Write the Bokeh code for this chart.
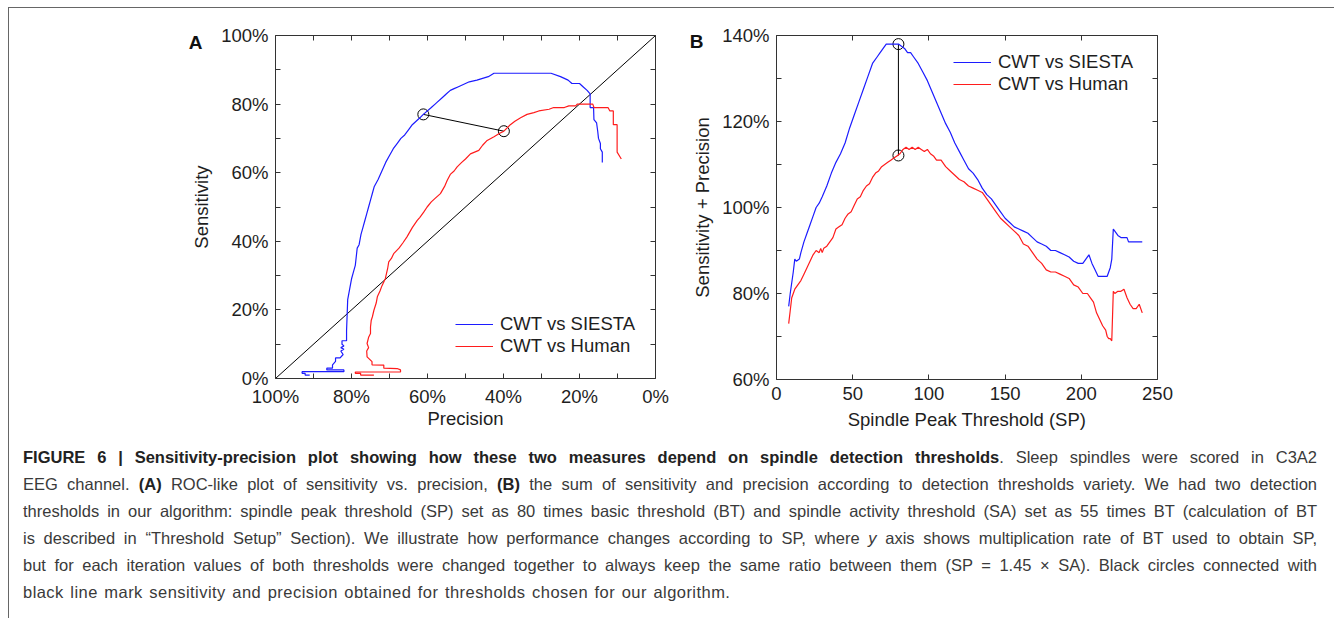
from bokeh.plotting import figure
from bokeh.models import (Range1d, LinearAxis, FixedTicker, Div, PrintfTickFormatter,
                          CustomJSTickFormatter, Legend, LegendItem)
from bokeh.layouts import row, column
from bokeh.embed import file_html
from bokeh.resources import INLINE

# ---------------- data ----------------
# Panel A: precision (%) vs sensitivity (%)
prec_siesta = [14, 14, 14.5, 14.5, 15, 15.2, 15.5, 16.2, 16.3, 17.2, 17.2, 18, 19, 20, 22, 23, 25, 27.5,
               42.5, 44, 47, 49, 50, 52, 53, 54, 55, 56, 57.5, 58, 59, 61.1, 62, 63, 64, 65, 66, 67, 68,
               69, 70, 71, 72, 73, 74, 74.5, 75, 75.5, 76, 76.5, 77, 77.5, 78, 78.5, 79, 79.5, 80, 80.5,
               81, 81.3, 81.3, 82.5, 82.5, 82, 82.8, 82, 82.8, 82.2, 83, 84.2, 84.2, 85, 85, 86.5, 86.5,
               82, 82, 93, 93, 92.2, 92.2, 91]
sens_siesta = [63, 66, 67, 68.5, 70, 72, 74.5, 75.5, 79, 79, 83, 84, 85, 86, 86, 87, 88, 89,
               89, 88, 87, 86.5, 86, 85, 84.5, 84, 83, 82, 80.5, 80, 79, 77, 76, 75, 74, 72.5, 71, 70, 68.5,
               67, 65, 63, 60.5, 58, 56, 54, 52, 50, 48, 46, 44, 42, 39, 38, 33, 31, 29, 26,
               23, 14, 11, 11, 10, 9.5, 9, 8.5, 8, 7, 6, 6, 5, 4, 3, 3, 2.5,
               2.5, 2, 2, 1.5, 1.5, 1, 1]

prec_human = [9, 10.1, 10.1, 11.1, 11.1, 12, 12.5, 13.6, 16.2, 16.5, 18.4, 20.6, 21, 22.8, 24, 26.8, 28,
              30.7, 32, 33.8, 35.5, 37, 38.2, 39.9, 41, 42.5, 44.3, 45.5, 46.5, 48.7, 50, 51, 52.2, 53,
              54, 54.8, 55.5, 56.6, 58, 59, 60.1, 61, 62, 62.7, 64, 65.4, 66.5, 67.5, 68.9, 69.5, 70.2,
              70.5, 71.1, 72, 72.5, 73.2, 73.5, 74.1, 74.5, 74.8, 75, 75, 75.5, 75.9, 75.5, 76, 75.9,
              74.6, 74.6, 71.5, 71.5, 68, 67.1, 67.1, 79, 79, 77.6, 77.6, 74.1]
sens_human = [64, 66, 74, 74, 78, 78, 79, 79, 79, 80, 80, 80, 79.5, 79.5, 79, 79, 78.5,
              78, 77.5, 77, 76, 75, 74, 72.1, 71.5, 70.5, 69.4, 68, 66.5, 65.5, 64, 63, 61.7, 60.5,
              59.5, 57.8, 56, 53.9, 52.5, 51.5, 50, 48.5, 47, 46.1, 44, 41.3, 39.5, 38, 36.4, 35, 34,
              32, 29.1, 27, 25.5, 23.8, 22, 19.9, 18, 17, 15, 13.1, 12, 10.2, 9, 8, 6.3,
              4.9, 4, 3.9, 3, 2.9, 2.5, 1.9, 1.9, 1.5, 1.5, 1, 1]

diag_prec = [100, 0]
diag_sens = [0, 100]
chosen_prec = [61.1, 39.9]
chosen_sens = [77.0, 72.1]

# Panel B: spindle peak threshold vs sensitivity + precision (%)
sp_siesta = [8, 9, 11, 12, 13, 15, 16, 18, 20, 22, 24, 26, 28, 30, 33, 36, 39, 42, 45, 48,
             51, 54, 57, 60, 63, 66, 68, 70, 72, 75, 78, 80, 82, 84, 86, 88, 90, 93, 96, 99,
             102, 105, 108, 111, 114, 117, 120, 123, 126, 129, 132, 135, 138, 141, 144, 147, 150, 153, 156, 159,
             162, 165, 168, 171, 174, 177, 180, 183, 186, 189, 192, 195, 198, 201, 203, 205, 207, 209, 211, 214,
             217, 219, 220, 221, 222, 224, 226, 228, 230, 231, 235, 240]
sum_siesta = [77, 80, 85, 88, 87.5, 88, 89.5, 92, 94, 96, 98, 100, 101, 102.5, 105, 108, 110.5, 112.5, 115, 118.5,
              121.5, 124.5, 127.5, 130.5, 133.5, 135, 136, 137, 138, 138, 138, 138, 137.5, 137, 136, 136, 135, 133.5, 131.5, 129.5,
              127, 124.5, 122, 119.5, 117.5, 115, 113, 111, 109, 108, 106.5, 104.5, 103, 102, 100.5, 99, 97.5, 96.5, 95.5, 95,
              94.5, 94, 93, 92, 91.5, 91, 90, 90, 89.5, 89, 88.5, 87.5, 87, 87, 88, 89, 87, 85.5, 84, 84,
              84, 86, 88, 95, 94.5, 93.5, 93, 93, 93, 92, 92, 92]

sp_human = [8, 9, 10, 12, 14, 16, 18, 20, 22, 24, 26, 28, 29, 30, 31, 33, 35, 37, 39, 41,
            43, 45, 47, 49, 51, 53, 55, 57, 59, 61, 63, 65, 67, 69, 71, 73, 75, 77, 79, 81,
            83, 85, 87, 89, 91, 93, 95, 97, 99, 101, 103, 105, 108, 111, 114, 117, 120, 123, 126, 129,
            132, 135, 138, 141, 144, 147, 150, 153, 156, 159, 162, 165, 168, 171, 174, 177, 180, 183, 186, 189,
            192, 195, 198, 201, 204, 206, 208, 210, 212, 214,
            216, 217, 218, 219, 220, 221, 222, 224, 226, 228, 230, 232, 234, 236, 238, 240]
sum_human = [73, 76, 79, 81, 82, 83, 84.5, 86, 87.5, 89, 90, 89.5, 90.5, 89.5, 90.5, 91, 92, 93, 95, 95.5,
             96, 97.5, 98.5, 99, 100.5, 102, 102.5, 104, 105, 105.5, 107, 108, 108.5, 109.5, 110, 110.5, 111, 111.5, 112, 112.5,
             113.5, 114, 113.5, 114, 113.5, 114, 113.5, 113, 113.5, 112.5, 112, 111, 111, 109.5, 108.5, 107.5, 106.5, 106, 105, 104.5,
             104, 103.5, 102, 100.5, 99, 97.5, 96.5, 95.5, 94.5, 93.5, 91.5, 91, 89.5, 88, 87, 85.5, 85, 85, 84.5, 84,
             83.5, 82, 81.5, 80, 80, 79, 78, 75.5, 74, 72.5,
             71.5, 70, 69.5, 69.5, 69, 80.5, 80, 80.5, 80.5, 81, 79, 77.5, 76.5, 76.5, 77.5, 75.5]

chosen_sp = [80, 80]
chosen_sum = [138, 112.1]

pct_ticks_a = [0, 20, 40, 60, 80, 100]
pct_minor_a = [10, 30, 50, 70, 90]
sum_ticks_b = [60, 80, 100, 120, 140]
sum_minor_b = [70, 90, 110, 130]
sp_ticks_b = [0, 50, 100, 150, 200, 250]

legend_labels = ["CWT vs SIESTA", "CWT vs Human"]
panel_letters = ["A", "B"]

caption_lines = [
    '<b style="color:#222">FIGURE 6 | Sensitivity-precision plot showing how these two measures depend on spindle detection thresholds</b>. Sleep spindles were scored in C3A2',
    'EEG channel. <b style="color:#222">(A)</b> ROC-like plot of sensitivity vs. precision, <b style="color:#222">(B)</b> the sum of sensitivity and precision according to detection thresholds variety. We had two detection',
    'thresholds in our algorithm: spindle peak threshold (SP) set as 80 times basic threshold (BT) and spindle activity threshold (SA) set as 55 times BT (calculation of BT',
    'is described in \u201cThreshold Setup\u201d Section). We illustrate how performance changes according to SP, where <i>y</i> axis shows multiplication rate of BT used to obtain SP,',
    'but for each iteration values of both thresholds were changed together to always keep the same ratio between them (SP = 1.45 \u00d7 SA). Black circles connected with',
    'black line mark sensitivity and precision obtained for thresholds chosen for our algorithm.',
]

# ---------------- style ----------------
FONT = "Liberation Sans"
AXC = "#333333"
TXT = "#1e1e1e"
BLUE = "#1c1cff"
RED = "#ff1c1c"
FS = "18.5px"


def setup_axis(ax, ticks, minor, fmt, show_labels=True):
    ax.ticker = FixedTicker(ticks=ticks, minor_ticks=minor)
    ax.formatter = PrintfTickFormatter(format=fmt)
    ax.axis_line_color = AXC
    ax.axis_line_width = 1
    ax.major_tick_line_color = AXC
    ax.minor_tick_line_color = AXC
    ax.major_tick_in = 5
    ax.major_tick_out = 0
    ax.minor_tick_in = 5
    ax.minor_tick_out = 0
    ax.major_label_text_font = FONT
    ax.major_label_text_font_size = FS
    ax.major_label_text_color = TXT
    ax.major_label_standoff = 7
    ax.axis_label_text_font = FONT
    ax.axis_label_text_font_size = FS
    ax.axis_label_text_font_style = "normal"
    ax.axis_label_text_color = TXT
    if not show_labels:
        ax.major_label_text_alpha = 0
        ax.major_label_text_font_size = "1px"
        ax.major_label_standoff = 0


def letter_axis(letter, pos):
    # an extra, line-less left axis that carries only the bold panel letter
    ax = LinearAxis(ticker=FixedTicker(ticks=[pos], minor_ticks=[]),
                    formatter=CustomJSTickFormatter(code=f"return '{letter}'"))
    ax.axis_line_color = None
    ax.major_tick_line_color = None
    ax.minor_tick_line_color = None
    ax.major_tick_in = 0
    ax.major_tick_out = 0
    ax.major_label_standoff = -14
    ax.major_label_text_font = FONT
    ax.major_label_text_font_size = "19px"
    ax.major_label_text_font_style = "bold"
    ax.major_label_text_color = "#111111"
    return ax


def make_legend(renderers, loc):
    return Legend(items=[LegendItem(label=lab, renderers=[r]) for lab, r in zip(legend_labels, renderers)],
                  location=loc, border_line_color=None, background_fill_alpha=0,
                  padding=0, margin=0, glyph_width=38, glyph_height=20, label_height=20,
                  spacing=0, label_standoff=7, label_text_font=FONT, label_text_font_size=FS,
                  label_text_color=TXT)


def make_fig(xr, yr, frame_w, frame_h, bl, br, bt, bb):
    p = figure(x_range=xr, y_range=yr, frame_width=frame_w, frame_height=frame_h,
               min_border_left=bl, min_border_right=br, min_border_top=bt, min_border_bottom=bb,
               output_backend="svg", toolbar_location=None, background_fill_color="white",
               border_fill_color="white")
    p.xgrid.visible = False
    p.ygrid.visible = False
    p.outline_line_color = None
    return p


# ---------------- panel A ----------------
pa = make_fig(Range1d(100, 0), Range1d(0, 100), 380, 343, 266, 21, 27, 60)
setup_axis(pa.xaxis[0], pct_ticks_a, pct_minor_a, "%d%%")
setup_axis(pa.yaxis[0], pct_ticks_a, pct_minor_a, "%d%%")
pa.xaxis[0].axis_label = "Precision"
pa.xaxis[0].axis_label_standoff = -2
pa.yaxis[0].axis_label = "Sensitivity"
pa.yaxis[0].axis_label_standoff = 6
top_a = LinearAxis()
setup_axis(top_a, pct_ticks_a, pct_minor_a, "%d%%", show_labels=False)
pa.add_layout(top_a, "above")
right_a = LinearAxis()
setup_axis(right_a, pct_ticks_a, pct_minor_a, "%d%%", show_labels=False)
pa.add_layout(right_a, "right")
pa.add_layout(letter_axis(panel_letters[0], 98), "left")

pa.line(diag_prec, diag_sens, line_color="black", line_width=1)
pa.line(chosen_prec, chosen_sens, line_color="black", line_width=1)
pa.scatter(chosen_prec, chosen_sens, marker="circle", size=11, fill_color=None,
           line_color="black", line_width=1)
ra_s = pa.multi_line([prec_siesta], [sens_siesta], line_color=BLUE, line_width=1.2)
ra_h = pa.multi_line([prec_human], [sens_human], line_color=RED, line_width=1.2)
pa.add_layout(make_legend([ra_s, ra_h], (180, 21.5)))

# ---------------- panel B ----------------
pb = make_fig(Range1d(0, 250), Range1d(60, 140), 381, 344, 100, 153, 27, 59)
setup_axis(pb.xaxis[0], sp_ticks_b, [], "%d")
setup_axis(pb.yaxis[0], sum_ticks_b, sum_minor_b, "%d%%")
pb.xaxis[0].axis_label = "Spindle Peak Threshold (SP)"
pb.xaxis[0].axis_label_standoff = 6
pb.yaxis[0].axis_label = "Sensitivity + Precision"
pb.yaxis[0].axis_label_standoff = 6
top_b = LinearAxis()
setup_axis(top_b, sp_ticks_b, [], "%d", show_labels=False)
pb.add_layout(top_b, "above")
right_b = LinearAxis()
setup_axis(right_b, sum_ticks_b, sum_minor_b, "%d%%", show_labels=False)
pb.add_layout(right_b, "right")
pb.add_layout(letter_axis(panel_letters[1], 138.6), "left")

pb.line(chosen_sp, chosen_sum, line_color="black", line_width=1)
pb.scatter(chosen_sp, chosen_sum, marker="circle", size=11, fill_color=None,
           line_color="black", line_width=1)
rb_s = pb.multi_line([sp_siesta], [sum_siesta], line_color=BLUE, line_width=1.2)
rb_h = pb.multi_line([sp_human], [sum_human], line_color=RED, line_width=1.2)
pb.add_layout(make_legend([rb_s, rb_h], (177, 284)))

# ---------------- caption ----------------
parts = []
for i, ln in enumerate(caption_lines):
    if i < len(caption_lines) - 1:
        extra = "text-align-last:justify;"
    else:
        extra = "text-align-last:left;letter-spacing:0.45px;word-spacing:1.5px;"
    parts.append(f'<div style="text-align:justify;{extra}height:27px;line-height:27px;">{ln}</div>')
caption_html = ('<div style="font-family:\'Liberation Sans\',Arial,sans-serif;font-size:16.5px;color:#3a3a3a;'
                'padding:6px 0 0 14px;width:1308px;">' + "".join(parts) + '</div>')
cap = Div(text=caption_html, width=1325, height=180, margin=(0, 0, 0, 0))

layout = column(row(pa, pb), cap,
                styles={"border-left": "1px solid #666666", "border-top": "1px solid #666666",
                        "margin-left": "8px", "margin-top": "7px"})

open("out.html", "w").write(file_html(layout, INLINE))
